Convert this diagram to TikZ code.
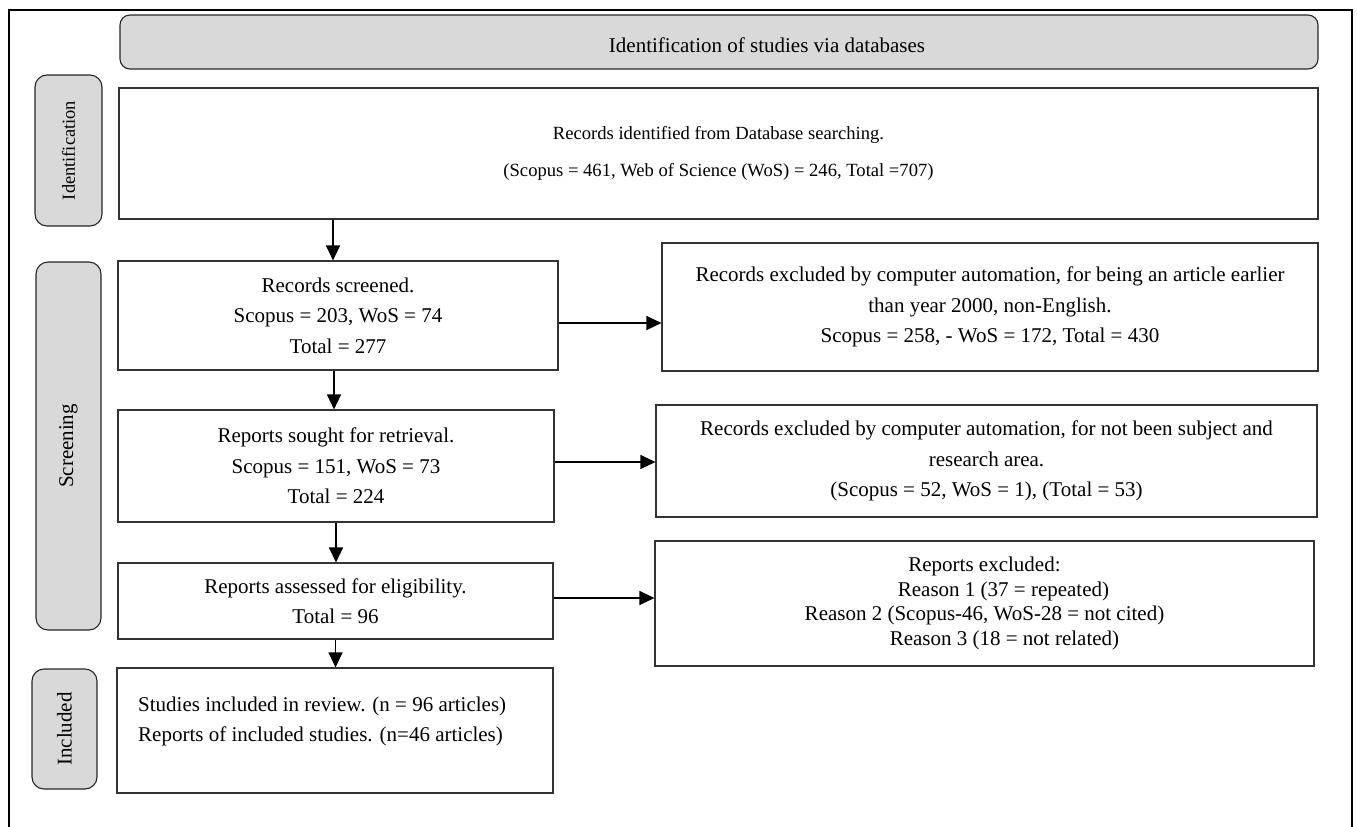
\documentclass[tikz,border=0pt]{standalone}
\usepackage{fontspec}
\setmainfont{Liberation Serif}
\usetikzlibrary{arrows.meta}
\definecolor{lblgray}{HTML}{D9D9D9}
\begin{document}
\begin{tikzpicture}[x=1pt,y=-1pt,
  box/.style={draw=black!80, line width=1.1pt, fill=white, inner sep=0pt, align=center,
    font=\fontsize{21}{30.5}\selectfont},
  phase/.style={draw=black!85, line width=1.1pt, fill=lblgray, rounded corners=12pt,
    inner sep=0pt, rotate=90, font=\fontsize{21}{25}\selectfont},
  headbox/.style={draw=black!85, line width=1.1pt, fill=lblgray, rounded corners=10pt,
    inner sep=0pt, font=\fontsize{21}{25}\selectfont},
  txt/.style={inner sep=0pt, align=left, font=\fontsize{21}{30}\selectfont},
  arr/.style={-{Triangle[length=15pt,width=14pt]}, line width=1.1pt, black}
]
\useasboundingbox (0,0) rectangle (1357,827);
% outer frame
\draw[line width=2pt] (9,827) -- (9,10) -- (1352,10) -- (1352,827);

% header
\node[headbox, minimum width=1198pt, minimum height=54pt, text height=20pt, text depth=0pt]
  (head) at (719,42) {\hspace*{96pt}Identification of studies via databases};

% phase labels
\node[phase, minimum width=151pt, minimum height=67pt, font=\fontsize{18.4}{22}\selectfont]
  (labid) at (68.5,150.5) {Identification};
\node[phase, minimum width=368pt, minimum height=65pt] (labscr) at (68.5,446) {Screening};
\node[phase, minimum width=120pt, minimum height=65pt] (labinc) at (64.5,729) {Included};

% main column
\node[box, minimum width=1199pt, minimum height=131pt, font=\fontsize{18.6}{37}\selectfont]
  (ident) at (718.5,153.5)
  {Records identified from Database searching.\\(Scopus = 461, Web of Science (WoS) = 246, Total =707)};
\node[box, minimum width=440pt, minimum height=109pt] (rs) at (338,315.5)
  {Records screened.\\Scopus = 203, WoS = 74\\Total = 277};
\node[box, minimum width=436pt, minimum height=112pt] (rsought) at (336,466)
  {Reports sought for retrieval.\\Scopus = 151, WoS = 73\\Total = 224};
\node[box, minimum width=435pt, minimum height=76pt] (rass) at (335.5,601)
  {Reports assessed for eligibility.\\Total = 96};
\node[box, minimum width=436pt, minimum height=125pt] (inc) at (335,730.5) {};
\node[txt, anchor=west] (inctxt) at (138,721)
  {Studies included in review. (n = 96 articles)\\Reports of included studies. (n=46 articles)};

% exclusion column
\node[box, minimum width=656pt, minimum height=128pt] (ex1) at (990,307)
  {Records excluded by computer automation, for being an article earlier\\than year 2000, non-English.\\Scopus = 258, - WoS = 172, Total = 430};
\node[box, minimum width=661pt, minimum height=112pt] (ex2) at (986.5,461)
  {Records excluded by computer automation, for not been subject and\\research area.\\(Scopus = 52, WoS = 1), (Total = 53)};
\node[box, minimum width=659pt, minimum height=125pt, font=\fontsize{21}{24.5}\selectfont]
  (ex3) at (984.5,603.5)
  {Reports excluded:\\\hspace*{38pt}Reason 1 (37 = repeated)\\Reason 2 (Scopus-46, WoS-28 = not cited)\\\hspace*{40pt}Reason 3 (18 = not related)};

% connectors
\draw[arr] ([xshift=-5pt]rs.north |- ident.south) -- ([xshift=-5pt]rs.north);
\draw[arr] ([xshift=-4pt]rs.south) -- ([xshift=-4pt]rs.south |- rsought.north);
\draw[arr] (rsought.south) -- (rsought.south |- rass.north);
\draw[arr] (rass.south) -- (rass.south |- inc.north);
\draw[arr] ([yshift=-7.5pt]rs.east) -- ([yshift=-7.5pt]rs.east -| ex1.west);
\draw[arr] ([yshift=4pt]rsought.east) -- ([yshift=4pt]rsought.east -| ex2.west);
\draw[arr] ([yshift=3pt]rass.east) -- ([yshift=3pt]rass.east -| ex3.west);
\end{tikzpicture}
\end{document}
